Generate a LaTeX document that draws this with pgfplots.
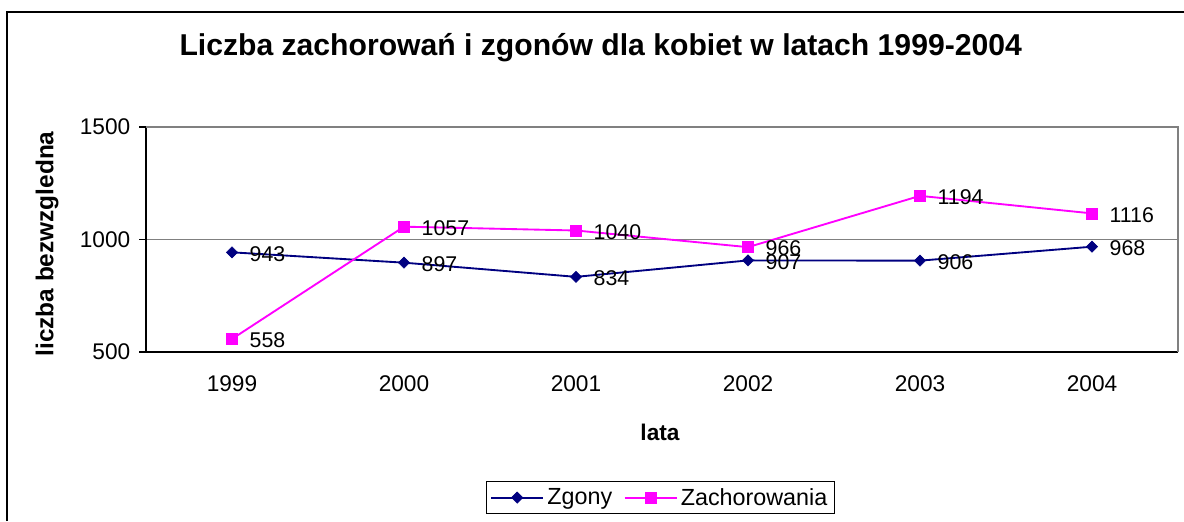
\documentclass[border=0pt]{standalone}
\usepackage{fontspec}
\setmainfont{Liberation Sans}
\usepackage{pgfplots}
\pgfplotsset{compat=1.18}
\definecolor{navyc}{RGB}{0,0,128}
\definecolor{magc}{RGB}{255,0,255}
\begin{document}
\begin{tikzpicture}
\useasboundingbox (0,0) rectangle (888pt,390.75pt);
\draw[line width=0.8pt] (5.25pt,0) -- (5.25pt,381.75pt) -- (888pt,381.75pt);
\node[font=\fontsize{22.6}{26}\selectfont\bfseries] at (450.5pt,355pt) {Liczba zachorowań i zgonów dla kobiet w latach 1999-2004};
\node[font=\fontsize{18.3}{21}\selectfont\bfseries,rotate=90] at (35.25pt,207.75pt) {liczba bezwzgledna};
\node[font=\fontsize{17}{20}\selectfont\bfseries] at (495pt,66.75pt) {lata};
\begin{axis}[
  at={(109.5pt,126.75pt)}, anchor=south west,
  scale only axis, width=774pt, height=168.75pt,
  xmin=-0.5, xmax=5.5, ymin=500, ymax=1500,
  axis x line*=bottom, axis y line*=left,
  x axis line style={-, black, line width=0.8pt},
  y axis line style={-, black, line width=0.8pt},
  xtick={0,...,5}, xticklabels={1999,2000,2001,2002,2003,2004},
  major x tick style={draw=none},
  extra x ticks={-0.5,0.5,1.5,2.5,3.5,4.5,5.5},
  extra x tick labels={},
  extra x tick style={tick style={draw=black, line width=0.8pt}, major tick length=5.25pt, tick align=outside},
  ytick={500,1000,1500},
  ymajorgrids, grid style={gray, line width=0.8pt},
  y tick style={black, line width=0.8pt}, major tick length=5.25pt, tick align=outside,
  tick label style={font=\fontsize{17}{20}\selectfont},
  /pgf/number format/assume math mode=true,
  /pgf/number format/1000 sep={},
  xticklabel style={yshift=-9pt},
  yticklabel style={xshift=-3pt},
  clip=false,
  legend columns=2,
  legend style={at={(0.4985,-0.647)}, anchor=center, draw=black, line width=0.8pt,
    font=\fontsize{17.5}{20}\selectfont, inner ysep=3pt,
    nodes={inner xsep=2.5pt},
    /tikz/every even column/.append style={column sep=6pt}},
  legend image code/.code={\draw[#1] (0pt,0pt) -- (19.5pt,0pt) plot coordinates {(19.5pt,0pt)} -- (39pt,0pt);},
]
\draw[gray, line width=0.8pt] (rel axis cs:0,1) -- (rel axis cs:1,1) -- (rel axis cs:1,0);
\addplot[navyc, line width=1.4pt, mark=square*, mark size=2.95pt, mark options={fill=navyc, rotate=45, line width=0.5pt},
  nodes near coords, point meta=explicit symbolic,
  every node near coord/.append style={anchor=west, xshift=13pt, yshift=-1pt, inner sep=0pt, black, font=\fontsize{16}{19}\selectfont}]
  table[meta=y] {
x y
0 943
1 897
2 834
3 907
4 906
5 968
};
\addlegendentry{Zgony}
\addplot[magc, line width=1.4pt, mark=square*, mark size=4.1pt, mark options={fill=magc, line width=0.5pt},
  nodes near coords, point meta=explicit symbolic,
  every node near coord/.append style={anchor=west, xshift=13pt, yshift=-1pt, inner sep=0pt, black, font=\fontsize{16}{19}\selectfont}]
  table[meta=y] {
x y
0 558
1 1057
2 1040
3 966
4 1194
5 1116
};
\addlegendentry{Zachorowania}
\end{axis}
\end{tikzpicture}
\end{document}
